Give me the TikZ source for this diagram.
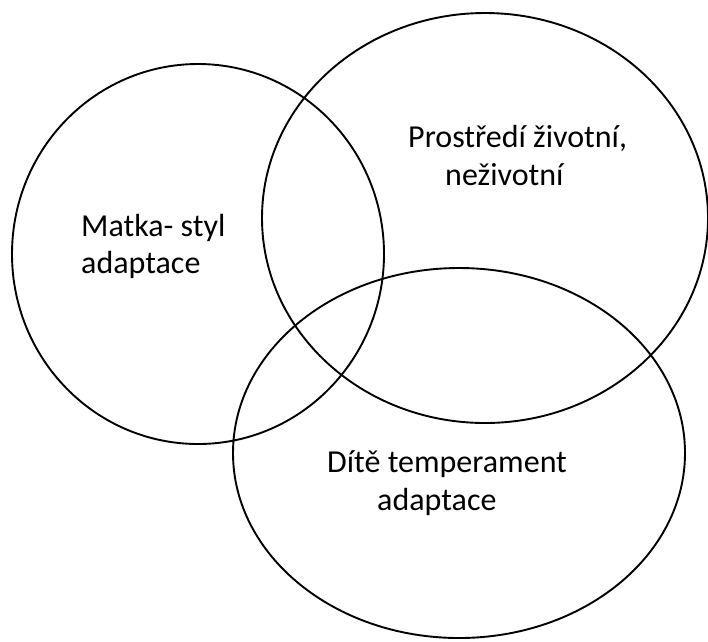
\documentclass[tikz,border=0pt]{standalone}
\usepackage{fontspec}
\setmainfont{Carlito}
\usetikzlibrary{shapes.geometric}
\begin{document}
\begin{tikzpicture}[x=1pt,y=-1pt,
  ring/.style={draw=black, line width=1.9pt, ellipse, inner sep=0pt, outer sep=0pt},
  lbl/.style={anchor=base west, inner sep=0pt, font=\fontsize{32}{37}\selectfont}]
\useasboundingbox (0,0) rectangle (708,641);
\node[ring, minimum width=372pt, minimum height=380pt] (mother) at (198,254) {};
\node[ring, minimum width=446pt, minimum height=410pt] (env) at (485,218) {};
\node[ring, minimum width=452pt, minimum height=370pt] (child) at (459,453) {};
\node[lbl] (m1) at (81,236) {Matka- styl};
\node[lbl] (m2) at (81,273) {adaptace};
\node[lbl] (e1) at (408,147) {Prostředí životní,};
\node[lbl] (e2) at (445,185) {neživotní};
\node[lbl] (c1) at (327,472) {Dítě temperament};
\node[lbl] (c2) at (377,510) {adaptace};
\end{tikzpicture}
\end{document}
